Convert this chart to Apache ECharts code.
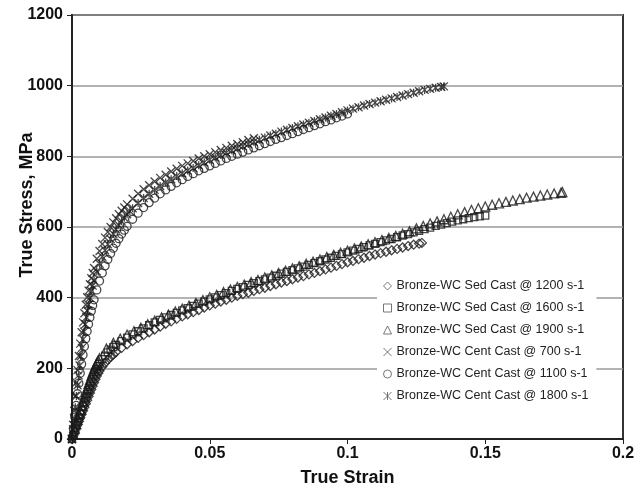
<!DOCTYPE html>
<html>
<head>
<meta charset="utf-8">
<script src="https://cdn.jsdelivr.net/npm/echarts@6/dist/echarts.min.js"></script>
<style>
html, body { margin: 0; padding: 0; background: #fff; }
#main { width: 634px; height: 493px; }
</style>
</head>
<body>
<div id="main"></div>
<script>
// [true strain, true stress MPa]
var sed1200 = [[0,0],[0.0005,10],[0.001,20],[0.0015,30],[0.002,40],[0.0025,50],[0.003,60],[0.0035,70],[0.004,80],[0.0045,90],[0.005,100],[0.0055,110],[0.006,120],[0.0065,130],[0.007,140],[0.0075,150],[0.008,160],[0.0085,169],[0.009,178],[0.0095,186],[0.010,193],[0.011,205],[0.012,215],[0.013,224],[0.014,232],[0.015,239],[0.016,246],[0.018,258],[0.020,268],[0.022,277],[0.024,286],[0.026,294],[0.028,302],[0.030,310],[0.032,318],[0.034,326],[0.036,333],[0.038,340],[0.040,347],[0.042,353],[0.044,359],[0.046,365],[0.048,372],[0.050,378],[0.052,383],[0.054,389],[0.056,394],[0.058,400],[0.060,405],[0.062,410],[0.064,414],[0.066,419],[0.068,424],[0.070,428],[0.072,433],[0.074,438],[0.076,443],[0.078,447],[0.080,452],[0.082,457],[0.084,461],[0.086,466],[0.088,470],[0.090,475],[0.092,480],[0.094,485],[0.096,490],[0.098,495],[0.100,500],[0.102,504],[0.104,509],[0.106,513],[0.108,518],[0.110,522],[0.112,526],[0.114,530],[0.116,534],[0.118,538],[0.120,542],[0.122,546],[0.124,550],[0.126,553],[0.127,555]];

var sed1600 = [[0,0],[0.0005,12],[0.001,24],[0.0015,36],[0.002,47],[0.0025,58],[0.003,70],[0.0035,81],[0.004,93],[0.0045,104],[0.005,116],[0.0055,127],[0.006,138],[0.0065,149],[0.007,160],[0.0075,170],[0.008,180],[0.0085,189],[0.009,198],[0.0095,206],[0.010,213],[0.011,226],[0.012,236],[0.013,245],[0.014,253],[0.015,260],[0.016,266],[0.018,277],[0.020,287],[0.022,296],[0.024,305],[0.026,313],[0.028,322],[0.030,330],[0.032,337],[0.034,344],[0.036,351],[0.038,357],[0.040,364],[0.042,370],[0.044,377],[0.046,383],[0.048,389],[0.050,395],[0.052,401],[0.054,407],[0.056,413],[0.058,419],[0.060,425],[0.062,430],[0.064,436],[0.066,441],[0.068,447],[0.070,452],[0.072,457],[0.074,462],[0.076,468],[0.078,473],[0.080,478],[0.082,483],[0.084,488],[0.086,493],[0.088,498],[0.090,503],[0.092,508],[0.094,513],[0.096,518],[0.098,523],[0.100,528],[0.102,533],[0.104,538],[0.106,543],[0.108,548],[0.110,552],[0.112,557],[0.114,562],[0.116,566],[0.118,571],[0.120,576],[0.122,580],[0.124,585],[0.126,589],[0.128,594],[0.130,598],[0.132,603],[0.134,607],[0.136,611],[0.138,615],[0.140,619],[0.142,622],[0.144,625],[0.146,628],[0.148,630],[0.150,632]];

var sed1900 = [[0.0005,14],[0.001,28],[0.0015,42],[0.002,55],[0.0025,68],[0.003,81],[0.0035,94],[0.004,107],[0.0045,120],[0.005,132],[0.0055,144],[0.006,156],[0.0065,167],[0.007,178],[0.0075,188],[0.008,198],[0.0085,207],[0.009,215],[0.0095,222],[0.010,229],[0.0125,256],[0.015,272],[0.0175,284],[0.020,295],[0.0225,305],[0.025,315],[0.0275,325],[0.030,335],[0.0325,344],[0.035,352],[0.0375,361],[0.040,369],[0.0425,377],[0.045,385],[0.0475,393],[0.050,401],[0.0525,408],[0.055,416],[0.0575,423],[0.060,430],[0.0625,437],[0.065,444],[0.0675,450],[0.070,457],[0.0725,463],[0.075,470],[0.0775,476],[0.080,483],[0.0825,489],[0.085,496],[0.0875,502],[0.090,508],[0.0925,515],[0.095,521],[0.0975,527],[0.100,533],[0.1025,539],[0.105,545],[0.1075,551],[0.110,557],[0.1125,563],[0.115,569],[0.1175,575],[0.120,581],[0.1225,588],[0.125,596],[0.1275,603],[0.130,610],[0.1325,616],[0.135,622],[0.1375,629],[0.140,636],[0.1425,642],[0.145,648],[0.1475,653],[0.150,658],[0.1525,663],[0.155,667],[0.1575,671],[0.160,675],[0.1625,679],[0.165,683],[0.1675,686],[0.170,689],[0.1725,692],[0.175,695],[0.1775,697],[0.178,699]];

var cent700 = [[0,0],[0.0004,40],[0.0008,80],[0.0012,122],[0.0016,160],[0.002,195],[0.0025,235],[0.003,270],[0.0035,302],[0.004,330],[0.0045,356],[0.005,380],[0.0055,401],[0.006,420],[0.0065,438],[0.007,455],[0.0075,470],[0.008,484],[0.009,510],[0.010,532],[0.011,552],[0.012,570],[0.013,586],[0.014,600],[0.015,613],[0.016,625],[0.017,636],[0.018,646],[0.019,655],[0.020,664],[0.022,680],[0.024,694],[0.026,707],[0.028,718],[0.030,729],[0.032,739],[0.034,748],[0.036,757],[0.038,765],[0.040,773],[0.042,780],[0.044,787],[0.046,794],[0.048,800],[0.050,806],[0.052,812],[0.054,818],[0.056,824],[0.058,830],[0.060,835],[0.062,840],[0.064,846],[0.066,851]];

var cent1100 = [[0.0005,30],[0.001,62],[0.0015,95],[0.002,128],[0.0025,158],[0.003,186],[0.0035,212],[0.004,238],[0.0045,262],[0.005,284],[0.0055,305],[0.006,325],[0.0065,344],[0.007,362],[0.0075,378],[0.008,394],[0.009,422],[0.010,447],[0.011,470],[0.012,490],[0.013,508],[0.014,525],[0.015,540],[0.016,554],[0.017,567],[0.018,580],[0.019,591],[0.020,602],[0.022,622],[0.024,639],[0.026,655],[0.028,669],[0.030,682],[0.032,694],[0.034,705],[0.036,715],[0.038,725],[0.040,734],[0.042,743],[0.044,751],[0.046,759],[0.048,766],[0.050,773],[0.052,780],[0.054,787],[0.056,794],[0.058,800],[0.060,806],[0.062,812],[0.064,818],[0.066,824],[0.068,830],[0.070,836],[0.072,842],[0.074,848],[0.076,853],[0.078,859],[0.080,864],[0.082,870],[0.084,876],[0.086,881],[0.088,887],[0.090,892],[0.092,898],[0.094,903],[0.096,909],[0.098,914],[0.100,920]];

var cent1800 = [[0,0],[0.0004,28],[0.0008,58],[0.0012,90],[0.0016,122],[0.002,152],[0.0024,180],[0.0028,208],[0.0032,234],[0.0036,258],[0.004,282],[0.0044,304],[0.0048,325],[0.0052,345],[0.0056,363],[0.006,380],[0.0065,400],[0.007,418],[0.0075,434],[0.008,449],[0.009,474],[0.010,496],[0.011,516],[0.012,534],[0.013,551],[0.014,566],[0.015,580],[0.016,593],[0.017,605],[0.018,616],[0.019,626],[0.020,636],[0.021,645],[0.022,653],[0.024,668],[0.026,682],[0.028,694],[0.030,705],[0.032,716],[0.034,726],[0.036,735],[0.038,744],[0.040,752],[0.042,760],[0.044,767],[0.046,775],[0.048,783],[0.050,790],[0.052,797],[0.054,804],[0.056,810],[0.058,817],[0.060,823],[0.062,829],[0.064,835],[0.066,841],[0.068,847],[0.070,853],[0.072,859],[0.074,864],[0.076,870],[0.078,875],[0.080,880],[0.082,885],[0.084,890],[0.086,895],[0.088,900],[0.090,905],[0.092,910],[0.094,915],[0.096,920],[0.098,925],[0.100,930],[0.102,935],[0.104,939],[0.106,944],[0.108,948],[0.110,952],[0.112,956],[0.114,960],[0.116,964],[0.118,968],[0.120,972],[0.122,976],[0.124,980],[0.126,984],[0.128,988],[0.130,991],[0.132,994],[0.134,996],[0.135,998]];

var seriesNames = ['Bronze-WC Sed Cast @ 1200 s-1', 'Bronze-WC Sed Cast @ 1600 s-1', 'Bronze-WC Sed Cast @ 1900 s-1',
    'Bronze-WC Cent Cast @ 700 s-1', 'Bronze-WC Cent Cast @ 1100 s-1', 'Bronze-WC Cent Cast @ 1800 s-1'];
var seriesData = [sed1200, sed1600, sed1900, cent700, cent1100, cent1800];
var xTicks = [0, 0.05, 0.1, 0.15, 0.2];
var yTicks = [0, 200, 400, 600, 800, 1000, 1200];

var crossPath = 'path://M0,0L10,10M10,0L0,10';
var starPath = 'path://M0,0L10,10M10,0L0,10M5,0L5,10';
var symbols = ['diamond', 'rect', 'triangle', crossPath, 'circle', starPath];
var sizes = [9, 7, 9, 8, 8, 8];

var font = '"Liberation Sans", Arial, sans-serif';

var series = [];
for (var i = 0; i < seriesData.length; i++) {
    series.push({
        name: seriesNames[i],
        type: 'scatter',
        data: seriesData[i],
        symbol: symbols[i],
        symbolSize: sizes[i],
        itemStyle: { color: 'rgba(0,0,0,0)', borderColor: '#1a1a1a', borderWidth: 1.3 }
    });
}

var option = {
    animation: false,
    backgroundColor: '#fff',
    grid: {
        left: 72, right: 11, top: 15, bottom: 54,
        containLabel: false, outerBoundsMode: 'none',
        show: true, borderColor: '#333', borderWidth: 2
    },
    legend: {
        orient: 'vertical',
        left: 377,
        top: 276,
        padding: [3, 8, 3, 6],
        backgroundColor: '#fff',
        itemGap: 8,
        itemWidth: 8,
        itemHeight: 8,
        textStyle: { fontFamily: font, fontSize: 12.5, color: '#222', lineHeight: 14 },
        itemStyle: { color: 'rgba(0,0,0,0)', borderColor: '#555', borderWidth: 1 },
        data: seriesNames.map(function (n, i) { return { name: n, icon: symbols[i] }; })
    },
    xAxis: {
        type: 'value',
        min: xTicks[0],
        max: xTicks[xTicks.length - 1],
        interval: 0.05,
        name: 'True Strain',
        nameLocation: 'middle',
        nameGap: 30,
        nameMoveOverlap: false,
        nameTextStyle: { fontFamily: font, fontSize: 18, fontWeight: 'bold', color: '#111' },
        axisLine: { lineStyle: { color: '#222', width: 2 } },
        axisTick: { show: true, length: 5, lineStyle: { color: '#222' } },
        axisLabel: { fontFamily: font, fontSize: 16, fontWeight: 'bold', color: '#111', margin: 7 },
        splitLine: { show: false }
    },
    yAxis: {
        type: 'value',
        min: yTicks[0],
        max: yTicks[yTicks.length - 1],
        interval: 200,
        name: 'True Stress, MPa',
        nameLocation: 'middle',
        nameGap: 36,
        nameMoveOverlap: false,
        nameTextStyle: { fontFamily: font, fontSize: 18, fontWeight: 'bold', color: '#111', padding: [0, 0, 0, 44] },
        axisLine: { lineStyle: { color: '#222', width: 2 } },
        axisTick: { show: true, length: 5, lineStyle: { color: '#222' } },
        axisLabel: {
            fontFamily: font, fontSize: 16, fontWeight: 'bold', color: '#111', margin: 9,
            formatter: function (v) { return String(v); }
        },
        splitLine: { show: true, lineStyle: { color: '#9a9a9a', width: 1.5 } }
    },
    series: series
};

var myChart = echarts.init(document.getElementById('main'));
myChart.setOption(option);
</script>
</body>
</html>
